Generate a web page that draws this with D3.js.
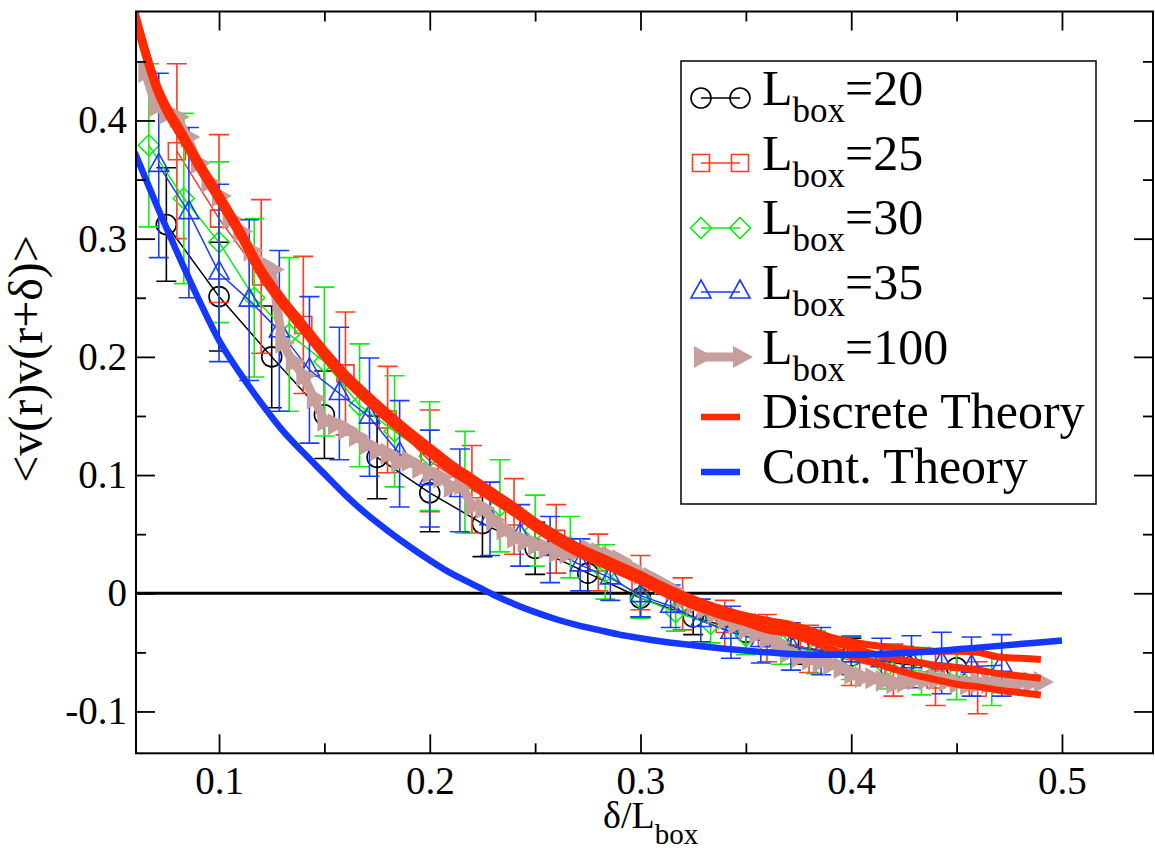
<!DOCTYPE html>
<html><head><meta charset="utf-8">
<script src="https://cdn.jsdelivr.net/npm/d3@7"></script>
<style>
body{margin:0;background:#fff}
svg{display:block}
svg text{font-family:'Liberation Serif','Tinos','Times New Roman','Times','Nimbus Roman','DejaVu Serif','Noto Serif',serif !important;fill:#000}
</style>
</head><body>
<svg id="c" width="1155" height="851" font-family="'Liberation Serif','Times New Roman','DejaVu Serif',serif"></svg>
<script>
// ---------------- DATA ----------------
const delta20 = [0.075,0.1,0.125,0.15,0.175,0.2,0.225,0.25,0.275,0.3,0.325,0.35,0.375,0.4,0.425,0.45];
const val20   = [0.312,0.251,0.200,0.151,0.115,0.085,0.059,0.038,0.017,-0.004,-0.020,-0.033,-0.045,-0.053,-0.060,-0.063];
const err20   = [0.048,0.046,0.043,0.037,0.035,0.033,0.028,0.022,0.017,0.016,0.015,0.015,0.015,0.015,0.015,0.015];

const delta25 = [0.08,0.10,0.12,0.14,0.16,0.18,0.20,0.22,0.24,0.26,0.28,0.30,0.32,0.34,0.36,0.38,0.40,0.42,0.44,0.46];
const val25   = [0.374,0.317,0.268,0.227,0.186,0.147,0.112,0.088,0.065,0.046,0.026,0.009,-0.009,-0.026,-0.038,-0.047,-0.057,-0.065,-0.073,-0.080];
const err25   = [0.074,0.071,0.065,0.058,0.052,0.045,0.043,0.037,0.032,0.029,0.024,0.023,0.022,0.020,0.020,0.020,0.021,0.022,0.022,0.022];

const delta30 = [0.0667,0.0833,0.1,0.1167,0.1333,0.15,0.1667,0.1833,0.2,0.2167,0.2333,0.25,0.2667,0.2833,0.3,0.3167,0.3333,0.35,0.3667,0.3833,0.4,0.4167,0.4333,0.45,0.4667];
const val30   = [0.379,0.334,0.297,0.250,0.219,0.196,0.159,0.137,0.116,0.094,0.074,0.053,0.039,0.018,-0.004,-0.016,-0.026,-0.036,-0.043,-0.050,-0.055,-0.062,-0.066,-0.070,-0.074];
const err30   = [0.069,0.072,0.068,0.067,0.065,0.063,0.052,0.047,0.046,0.043,0.039,0.030,0.026,0.023,0.017,0.016,0.016,0.016,0.017,0.018,0.018,0.019,0.020,0.020,0.021];

const delta35 = [0.0714,0.0857,0.1,0.1143,0.1286,0.1429,0.1571,0.1714,0.1857,0.2,0.2143,0.2286,0.2429,0.2571,0.2714,0.2857,0.3,0.3143,0.3286,0.3429,0.3571,0.3714,0.3857,0.4,0.4143,0.4286,0.4429,0.4571,0.4714];
const val35   = [0.362,0.322,0.271,0.248,0.222,0.189,0.169,0.149,0.118,0.097,0.087,0.063,0.049,0.037,0.024,0.013,-0.002,-0.011,-0.023,-0.033,-0.040,-0.045,-0.049,-0.053,-0.057,-0.058,-0.059,-0.062,-0.061];
const err35   = [0.078,0.072,0.075,0.068,0.068,0.062,0.056,0.050,0.045,0.041,0.035,0.031,0.026,0.028,0.022,0.019,0.018,0.018,0.018,0.022,0.019,0.020,0.020,0.016,0.019,0.022,0.026,0.025,0.026];

const delta100 = [0.065,0.070,0.075,0.080,0.085,0.090,0.095,0.100,0.105,0.110,0.115,0.120,0.125,0.130,0.135,0.140,0.145,0.150,0.155,0.160,0.165,0.170,0.175,0.180,0.185,0.190,0.195,0.200,0.205,0.210,0.215,0.220,0.225,0.230,0.235,0.240,0.245,0.250,0.255,0.260,0.265,0.270,0.275,0.280,0.285,0.290,0.295,0.300,0.305,0.310,0.315,0.320,0.325,0.330,0.335,0.340,0.345,0.350,0.355,0.360,0.365,0.370,0.375,0.380,0.385,0.390,0.395,0.400,0.405,0.410,0.415,0.420,0.425,0.430,0.435,0.440,0.445,0.450,0.455,0.460,0.465,0.470,0.475,0.480,0.485,0.490];
const val100   = [0.441,0.412,0.406,0.403,0.386,0.364,0.348,0.336,0.317,0.306,0.290,0.279,0.274,0.212,0.196,0.184,0.165,0.146,0.143,0.139,0.133,0.126,0.121,0.118,0.111,0.112,0.106,0.102,0.098,0.090,0.092,0.074,0.072,0.062,0.054,0.047,0.044,0.041,0.038,0.035,0.034,0.036,0.037,0.034,0.031,0.028,0.022,0.016,0.013,0.008,0.003,-0.004,-0.009,-0.013,-0.017,-0.022,-0.026,-0.030,-0.034,-0.038,-0.042,-0.050,-0.054,-0.056,-0.058,-0.060,-0.063,-0.068,-0.071,-0.072,-0.074,-0.076,-0.075,-0.073,-0.073,-0.073,-0.074,-0.076,-0.077,-0.076,-0.076,-0.077,-0.076,-0.075,-0.075,-0.075];

const thDelta = [0.06,0.065,0.07,0.075,0.08,0.09,0.10,0.11,0.12,0.13,0.14,0.15,0.16,0.17,0.18,0.19,0.20,0.21,0.22,0.23,0.24,0.25,0.26,0.27,0.28,0.29,0.30,0.31,0.32,0.33,0.34,0.35,0.36,0.37,0.38,0.39,0.40,0.41,0.42,0.43,0.44,0.45,0.46,0.47,0.48,0.49];
const discA = [0.493,0.461,0.433,0.413,0.398,0.367,0.338,0.308,0.275,0.250,0.228,0.206,0.186,0.169,0.153,0.138,0.124,0.110,0.098,0.086,0.074,0.061,0.050,0.040,0.032,0.024,0.016,0.007,-0.001,-0.008,-0.014,-0.019,-0.023,-0.026,-0.031,-0.037,-0.041,-0.044,-0.046,-0.048,-0.049,-0.049,-0.050,-0.054,-0.055,-0.056];
const discB = [0.490,0.458,0.430,0.410,0.395,0.364,0.335,0.305,0.272,0.247,0.225,0.203,0.183,0.166,0.150,0.135,0.121,0.107,0.095,0.083,0.071,0.058,0.047,0.037,0.029,0.021,0.013,0.004,-0.004,-0.011,-0.017,-0.022,-0.027,-0.031,-0.035,-0.041,-0.046,-0.051,-0.055,-0.058,-0.061,-0.063,-0.065,-0.068,-0.070,-0.072];
const discC = [0.487,0.455,0.427,0.407,0.392,0.361,0.332,0.302,0.269,0.244,0.222,0.200,0.180,0.163,0.147,0.132,0.118,0.104,0.092,0.080,0.068,0.055,0.044,0.034,0.026,0.018,0.010,0.001,-0.007,-0.014,-0.020,-0.025,-0.031,-0.034,-0.040,-0.047,-0.053,-0.058,-0.064,-0.069,-0.073,-0.077,-0.079,-0.082,-0.084,-0.086];

const contDelta = [0.06,0.07,0.08,0.09,0.10,0.11,0.12,0.13,0.14,0.15,0.16,0.17,0.18,0.19,0.20,0.21,0.22,0.23,0.24,0.25,0.26,0.27,0.28,0.29,0.30,0.32,0.34,0.36,0.38,0.40,0.42,0.44,0.46,0.48,0.50];
const contVal   = [0.373,0.330,0.289,0.250,0.214,0.186,0.161,0.138,0.119,0.101,0.083,0.067,0.053,0.040,0.028,0.017,0.008,-0.001,-0.009,-0.016,-0.022,-0.027,-0.031,-0.035,-0.038,-0.043,-0.047,-0.050,-0.052,-0.052,-0.051,-0.049,-0.046,-0.043,-0.040];

const zeroDelta = [0.06,0.5];
const zeroVal   = [0,0];

const xMajor = [0.1,0.2,0.3,0.4,0.5];
const xTickLabels = ["0.1","0.2","0.3","0.4","0.5"];
const xMinor = [0.15,0.25,0.35,0.45];
const yMajor = [-0.1,0,0.1,0.2,0.3,0.4];
const yTickLabels = ["-0.1","0","0.1","0.2","0.3","0.4"];
const yMinor = [-0.05,0.05,0.15,0.25,0.35,0.45];

const legendSizes = ["=20","=25","=30","=35","=100"];
const legendTheory = ["Discrete Theory","Cont. Theory"];

// ---------------- STYLE ----------------
const FONT="'Liberation Serif','Tinos','Times New Roman','Times','Nimbus Roman','DejaVu Serif','Noto Serif',serif";
const C_BLACK="#000000", C_RED="#ff3a1e", C_GREEN="#10ee10", C_BLUE="#1a3cff", C_BROWN="#c69e9c";
const C_DISC="#ff2a00", C_CONT="#1438ff";

const plot={l:136,r:1153,t:11.5,b:753.3};
const x=d3.scaleLinear().domain([0.0606,0.5432]).range([plot.l,plot.r]);
const y=d3.scaleLinear().domain([-0.1354,0.4922]).range([plot.b,plot.t]);

const svg=d3.select('#c');
svg.append('rect').attr('width',1155).attr('height',851).attr('fill','#fff');
svg.append('defs').append('clipPath').attr('id','clip').append('rect')
  .attr('x',plot.l).attr('y',plot.t).attr('width',plot.r-plot.l).attr('height',plot.b-plot.t);
const g=svg.append('g').attr('clip-path','url(#clip)');

const line=d3.line().x(p=>x(p[0])).y(p=>y(p[1]));
const zip=(a,b)=>a.map((d,i)=>[d,b[i]]);

const shapes={
  circle: d3.symbol(d3.symbolCircle, Math.PI*100)(),
  square: "M-8.5,-8.5H8.5V8.5H-8.5Z",
  diamond:"M0,-10.5L10.5,0L0,10.5L-10.5,0Z",
  triangle:"M0,-12L10,6L-10,6Z",
  arrow:"M-7,-11L13,0L-7,11Z"
};

g.append('path').datum(zip(zeroDelta,zeroVal)).attr('d',line)
  .attr('fill','none').attr('stroke',C_BLACK).attr('stroke-width',3);

function drawSeries(dx,vy,err,color,shape,lw,filled){
  const pts=zip(dx,vy);
  const sg=g.append('g');
  if(err){
    sg.selectAll('path.eb').data(pts).join('path').attr('class','eb')
      .attr('d',(p,i)=>{const cx=x(p[0]),y1=y(p[1]+err[i]),y2=y(p[1]-err[i]);
        return `M${cx},${y1}V${y2}M${cx-10},${y1}H${cx+10}M${cx-10},${y2}H${cx+10}`;})
      .attr('fill','none').attr('stroke',color).attr('stroke-width',1.6);
  }
  sg.append('path').datum(pts).attr('d',line).attr('fill','none')
    .attr('stroke',color).attr('stroke-width',lw).attr('stroke-linejoin','round');
  sg.selectAll('path.mk').data(pts).join('path').attr('class','mk')
    .attr('d',shapes[shape]).attr('transform',p=>`translate(${x(p[0])},${y(p[1])})`)
    .attr('fill',filled?color:'none').attr('stroke',filled?'none':color).attr('stroke-width',1.6);
}
drawSeries(delta20,val20,err20,C_BLACK,'circle',1.5,false);
drawSeries(delta25,val25,err25,C_RED,'square',1.5,false);
drawSeries(delta30,val30,err30,C_GREEN,'diamond',1.5,false);
drawSeries(delta35,val35,err35,C_BLUE,'triangle',1.5,false);
drawSeries(delta100,val100,null,C_BROWN,'arrow',9,true);

const smooth=d3.line().x(p=>x(p[0])).y(p=>y(p[1])).curve(d3.curveMonotoneX);
[discA,discB,discC].forEach(v=>{
  g.append('path').datum(zip(thDelta,v)).attr('d',smooth).attr('fill','none')
   .attr('stroke',C_DISC).attr('stroke-width',7).attr('stroke-linejoin','round');
});
g.append('path').datum(zip(contDelta,contVal)).attr('d',smooth).attr('fill','none')
  .attr('stroke',C_CONT).attr('stroke-width',6.5);

// ---------------- AXES ----------------
function styleAxis(sel,fs){
  sel.attr('font-family',FONT).attr('font-size',fs);
  sel.select('.domain').remove();
  sel.selectAll('line').attr('stroke','#000').attr('stroke-width',1.8);
  sel.selectAll('text').attr('font-size',fs).attr('fill','#000').attr('font-family',FONT);
}
const ax=svg.append('g');
ax.append('g').attr('transform',`translate(0,${plot.b})`)
  .call(d3.axisBottom(x).tickValues(xMajor).tickSize(-19).tickPadding(13).tickFormat((d,i)=>xTickLabels[i]))
  .call(s=>styleAxis(s,39));
ax.append('g').attr('transform',`translate(0,${plot.b})`)
  .call(d3.axisBottom(x).tickValues(xMinor).tickSize(-10).tickFormat(''))
  .call(s=>styleAxis(s,39));
ax.append('g').attr('transform',`translate(0,${plot.t})`)
  .call(d3.axisTop(x).tickValues(xMajor).tickSize(-19).tickFormat('')).call(s=>styleAxis(s,39));
ax.append('g').attr('transform',`translate(0,${plot.t})`)
  .call(d3.axisTop(x).tickValues(xMinor).tickSize(-10).tickFormat('')).call(s=>styleAxis(s,39));
ax.append('g').attr('transform',`translate(${plot.l},0)`)
  .call(d3.axisLeft(y).tickValues(yMajor).tickSize(-19).tickPadding(9).tickFormat((d,i)=>yTickLabels[i]))
  .call(s=>styleAxis(s,39));
ax.append('g').attr('transform',`translate(${plot.l},0)`)
  .call(d3.axisLeft(y).tickValues(yMinor).tickSize(-10).tickFormat('')).call(s=>styleAxis(s,39));
ax.append('g').attr('transform',`translate(${plot.r},0)`)
  .call(d3.axisRight(y).tickValues(yMajor).tickSize(-19).tickFormat('')).call(s=>styleAxis(s,39));
ax.append('g').attr('transform',`translate(${plot.r},0)`)
  .call(d3.axisRight(y).tickValues(yMinor).tickSize(-10).tickFormat('')).call(s=>styleAxis(s,39));

svg.append('rect').attr('x',plot.l).attr('y',plot.t).attr('width',plot.r-plot.l).attr('height',plot.b-plot.t)
  .attr('fill','none').attr('stroke','#000').attr('stroke-width',2);

// axis titles
const xt=svg.append('text').attr('x',603).attr('y',828).attr('font-size',38).attr('font-family',FONT);
xt.append('tspan').text('δ/L');
xt.append('tspan').attr('dy',16).attr('font-size',29).text('box');

svg.append('text').attr('transform','translate(42,359) rotate(-90)').attr('font-family',FONT)
  .attr('text-anchor','middle').attr('font-size',48).text('<v(r)v(r+δ)>');

// ---------------- LEGEND ----------------
const lg=svg.append('g').attr('font-family',FONT);
lg.append('rect').attr('x',681).attr('y',61).attr('width',415).attr('height',443)
  .attr('fill','#fff').attr('stroke','#000').attr('stroke-width',1.5);
const lx1=701, lx2=740, tx=762;
const rowY=[98,163,228,292,357];
const rowBase=[105,169.5,234,299,363.5];
const lgColors=[C_BLACK,C_RED,C_GREEN,C_BLUE,C_BROWN];
const lgShapes=['circle','square','diamond','triangle','arrow'];
legendSizes.forEach((lab,i)=>{
  const brown=i===4;
  lg.append('line').attr('x1',lx1).attr('x2',lx2).attr('y1',rowY[i]).attr('y2',rowY[i])
    .attr('stroke',lgColors[i]).attr('stroke-width',brown?9:1.5);
  [lx1,lx2].forEach(px=>{
    lg.append('path').attr('d',shapes[lgShapes[i]]).attr('transform',`translate(${px},${rowY[i]})`)
      .attr('fill',brown?lgColors[i]:'none').attr('stroke',brown?'none':lgColors[i]).attr('stroke-width',1.6);
  });
  const t=lg.append('text').attr('x',tx).attr('y',rowBase[i]).attr('font-size',50).attr('font-family',FONT);
  t.append('tspan').text('L');
  t.append('tspan').attr('dy',17).attr('font-size',35).text('box');
  t.append('tspan').attr('dy',-17).text(lab);
});
const thY=[417,472], thBase=[428,483], thCol=[C_DISC,C_CONT];
legendTheory.forEach((lab,i)=>{
  lg.append('line').attr('x1',lx1).attr('x2',lx2).attr('y1',thY[i]).attr('y2',thY[i])
    .attr('stroke',thCol[i]).attr('stroke-width',6.5);
  lg.append('text').attr('x',tx).attr('y',thBase[i]).attr('font-size',50).attr('font-family',FONT).text(lab);
});
</script>
</body></html>
